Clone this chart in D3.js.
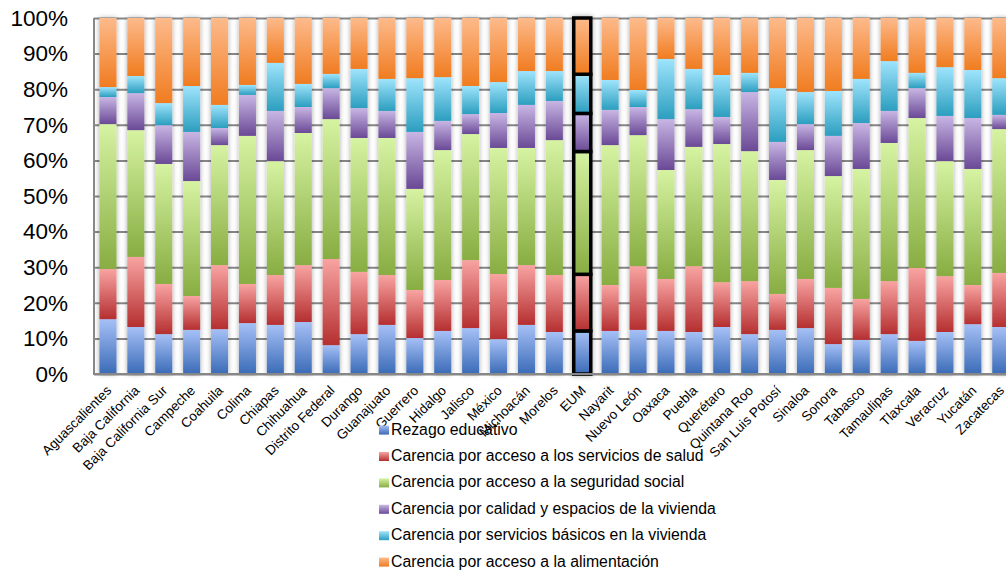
<!DOCTYPE html>
<html>
<head>
<meta charset="utf-8">
<script src="https://cdn.jsdelivr.net/npm/d3@7/dist/d3.min.js"></script>
<style>
  html, body { margin: 0; padding: 0; background: #fff; overflow: hidden; }
  svg { display: block; font-family: "Liberation Sans", Arial, sans-serif; }
</style>
</head>
<body>
<svg id="chart" width="1006" height="573"></svg>
<script>
// Entidades federativas (EUM = Estados Unidos Mexicanos, total nacional)
const categories = ["Aguascalientes","Baja California","Baja California Sur","Campeche","Coahuila","Colima","Chiapas","Chihuahua","Distrito Federal","Durango","Guanajuato","Guerrero","Hidalgo","Jalisco","México","Michoacán","Morelos","EUM","Nayarit","Nuevo León","Oaxaca","Puebla","Querétaro","Quintana Roo","San Luis Potosí","Sinaloa","Sonora","Tabasco","Tamaulipas","Tlaxcala","Veracruz","Yucatán","Zacatecas"];

const seriesNames = [
  "Rezago educativo",
  "Carencia por acceso a los servicios de salud",
  "Carencia por acceso a la seguridad social",
  "Carencia por calidad y espacios de la vivienda",
  "Carencia por servicios básicos en la vivienda",
  "Carencia por acceso a la alimentación"
];

// Participación (%) de cada carencia por entidad
const rezagoEducativo = [15.4,13.2,11.2,12.4,12.6,14.3,13.8,14.6,8.1,11.2,13.8,10.1,12.1,12.9,9.8,13.8,11.8,12.1,12.1,12.4,12.1,11.8,13.2,11.2,12.4,12.9,8.4,9.6,11.2,9.3,11.8,14.0,13.2];
const serviciosSalud  = [14.1,19.7,14.1,9.5,18.0,11.0,14.0,16.0,24.2,17.5,14.0,13.5,14.3,19.1,18.3,16.8,16.0,15.9,12.9,17.9,14.6,18.5,12.6,14.9,10.1,13.8,15.8,11.5,14.9,20.5,15.7,11.0,15.2];
const seguridadSocial = [40.7,35.6,33.7,32.3,33.7,41.6,32.0,37.1,39.3,37.6,38.5,28.4,36.5,35.4,35.4,32.9,37.9,34.5,39.3,36.8,30.6,33.5,38.8,36.5,32.0,36.2,31.4,36.5,38.8,42.1,32.3,32.6,40.4];
const calidadVivienda = [7.6,10.4,10.9,13.8,4.8,11.5,14.1,7.3,8.7,8.4,7.6,16.0,8.2,5.6,9.8,12.1,11.0,10.7,9.9,7.9,14.3,10.6,7.6,16.6,10.7,7.3,11.3,12.9,9.0,8.4,12.7,14.3,4.0];
const serviciosBasicos = [2.8,4.8,6.2,12.9,6.5,2.8,13.5,6.5,4.0,11.0,9.0,15.1,12.3,7.9,8.7,9.5,8.4,11.0,8.4,4.8,16.9,11.3,11.8,5.4,15.1,9.0,12.6,12.4,14.0,4.3,13.7,13.5,10.3];
const alimentacion    = [19.4,16.3,23.9,19.1,24.4,18.8,12.6,18.5,15.7,14.3,17.1,16.9,16.6,19.1,18.0,14.9,14.9,15.8,17.4,20.2,11.5,14.3,16.0,15.4,19.7,20.8,20.5,17.1,12.1,15.4,13.8,14.6,16.9];

const yTicks = [0,0.1,0.2,0.3,0.4,0.5,0.6,0.7,0.8,0.9,1];
const highlighted = "EUM";

const seriesValues = [rezagoEducativo, serviciosSalud, seguridadSocial, calidadVivienda, serviciosBasicos, alimentacion];

// Gradient stops per series: light top, deep bottom
const gradients = [
  ["#a6c0f6", "#3a6bb7"],
  ["#f8a4a2", "#b52f30"],
  ["#d6f3a2", "#88ad42"],
  ["#c8b6e4", "#6a4996"],
  ["#9fe4fc", "#2c9ebf"],
  ["#fdba8b", "#f07c20"]
];

const rows = categories.map((c, i) => {
  const r = { cat: c };
  seriesNames.forEach((s, k) => { r[s] = seriesValues[k][i]; });
  return r;
});

const svg = d3.select("#chart");
const plotLeft = 94, plotTop = 18, plotBottom = 374;
const step = 27.9;
const plotRight = plotLeft + step * categories.length;

const x = d3.scaleBand()
  .domain(categories)
  .range([plotLeft, plotRight])
  .paddingInner(0.39)
  .paddingOuter(0.195);

const y = d3.scaleLinear().domain([0, 1]).range([plotBottom, plotTop]);

const stack = d3.stack().keys(seriesNames).offset(d3.stackOffsetExpand);
const stacked = stack(rows);

// Definitions: gradients and soft shadow
const defs = svg.append("defs");
gradients.forEach((g, k) => {
  const lg = defs.append("linearGradient")
    .attr("id", "grad" + k)
    .attr("x1", 0).attr("y1", 0).attr("x2", 0).attr("y2", 1);
  lg.append("stop").attr("offset", "0%").attr("stop-color", g[0]);
  lg.append("stop").attr("offset", "100%").attr("stop-color", g[1]);
});
const f = defs.append("filter").attr("id", "shadow")
  .attr("x", "-50%").attr("y", "-5%").attr("width", "200%").attr("height", "110%");
f.append("feGaussianBlur").attr("in", "SourceAlpha").attr("stdDeviation", 2.4).attr("result", "blur");
f.append("feFlood").attr("flood-color", "#000").attr("flood-opacity", 0.36).attr("result", "col");
f.append("feComposite").attr("in", "col").attr("in2", "blur").attr("operator", "in").attr("result", "sh");
const fm = f.append("feMerge");
fm.append("feMergeNode").attr("in", "sh");
fm.append("feMergeNode").attr("in", "SourceGraphic");

// Horizontal gridlines
const grid = svg.append("g")
  .attr("transform", `translate(${plotLeft},0)`)
  .call(d3.axisLeft(y).tickValues(yTicks).tickSize(-(plotRight - plotLeft)).tickFormat(""));
grid.select(".domain").remove();
grid.selectAll(".tick line").attr("stroke", "#878787").attr("stroke-width", 2);

// Y axis labels
const yAxis = svg.append("g")
  .attr("transform", `translate(${plotLeft},0)`)
  .call(d3.axisLeft(y).tickValues(yTicks).tickSize(0).tickPadding(26).tickFormat(d3.format(".0%")));
yAxis.select(".domain").remove();
yAxis.selectAll("text")
  .attr("font-family", "'Liberation Sans', Arial, sans-serif")
  .attr("font-size", 22.5)
  .attr("fill", "#000");

// Stacked bars
const barLayer = svg.append("g").attr("filter", "url(#shadow)");
stacked.forEach((layer, k) => {
  barLayer.append("g")
    .selectAll("rect")
    .data(layer)
    .join("rect")
    .attr("x", d => x(d.data.cat))
    .attr("width", x.bandwidth())
    .attr("y", d => y(d[1]))
    .attr("height", d => y(d[0]) - y(d[1]))
    .attr("fill", `url(#grad${k})`)
    .attr("stroke", d => d.data.cat === highlighted ? "#000" : "none")
    .attr("stroke-width", d => d.data.cat === highlighted ? 3.5 : 0);
});

// Axis lines
svg.append("line")
  .attr("x1", plotLeft).attr("x2", plotLeft)
  .attr("y1", plotTop).attr("y2", plotBottom + 1)
  .attr("stroke", "#878787").attr("stroke-width", 2);
svg.append("line")
  .attr("x1", plotLeft).attr("x2", plotRight)
  .attr("y1", plotBottom).attr("y2", plotBottom)
  .attr("stroke", "#878787").attr("stroke-width", 2);

// Category labels, rotated
const xAxis = svg.append("g")
  .attr("transform", `translate(0,${plotBottom})`)
  .call(d3.axisBottom(x).tickSize(0).tickPadding(0));
xAxis.select(".domain").remove();
xAxis.selectAll(".tick text")
  .attr("font-family", "'Liberation Sans', Arial, sans-serif")
  .attr("font-size", 13.5)
  .attr("fill", "#000")
  .attr("text-anchor", "end")
  .attr("y", 0)
  .attr("dy", "0.35em")
  .attr("transform", "translate(1,14) rotate(-45)");

// Legend
const legend = svg.append("g").attr("transform", "translate(379,0)");
seriesNames.forEach((s, k) => {
  const yy = 434.6 + k * 26.4;
  legend.append("rect")
    .attr("x", 0).attr("y", yy - 9)
    .attr("width", 10).attr("height", 9)
    .attr("fill", `url(#grad${k})`);
  legend.append("text")
    .attr("x", 12).attr("y", yy)
    .attr("font-size", 15.8)
    .attr("fill", "#000")
    .text(s);
});

// Source note
svg.append("text")
  .attr("x", 11).attr("y", 585)
  .attr("font-size", 17)
  .attr("fill", "#7f7f7f")
  .text("Fuente: estimaciones del CONEVAL con base en el MCS-ENIGH 2010.");
</script>
</body>
</html>
